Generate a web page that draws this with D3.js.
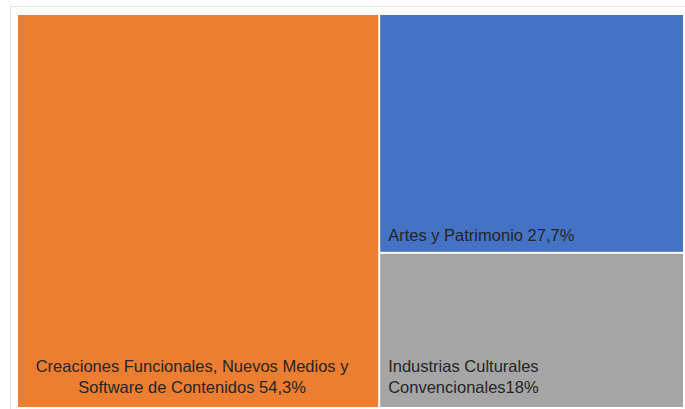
<!DOCTYPE html>
<html>
<head>
<meta charset="utf-8">
<script src="https://cdn.jsdelivr.net/npm/d3@7"></script>
<style>
  body { margin: 0; background: #fff; }
  svg { display: block; }
</style>
</head>
<body>
<svg width="685" height="409"></svg>
<script>
// data
var categories = ["Creaciones Funcionales, Nuevos Medios y Software de Contenidos", "Artes y Patrimonio", "Industrias Culturales Convencionales"];
var shares = [54.3, 27.7, 18];
var labelLines = [
  ["Creaciones Funcionales, Nuevos Medios y", "Software de Contenidos 54,3%"],
  ["Artes y Patrimonio 27,7%"],
  ["Industrias Culturales", "Convencionales18%"]
];
var colors = ["#ED7D31", "#4472C4", "#A5A5A5"];

var svg = d3.select("svg");
var mLeft = 18, mTop = 15, w = 665, h = 392;

// faint outer frame
svg.append("rect")
  .attr("x", 10.5).attr("y", 6.5)
  .attr("width", 700).attr("height", 420)
  .attr("fill", "none")
  .attr("stroke", "#e3e3e3");

var root = d3.hierarchy({ children: categories.map(function(c, i) {
    return { name: c, value: shares[i], idx: i };
  }) })
  .sum(function(d) { return d.value || 0; });

d3.treemap()
  .tile(d3.treemapBinary)
  .paddingInner(2)
  .size([w, h])(root);

var cell = svg.append("g")
  .attr("transform", "translate(" + mLeft + "," + mTop + ")")
  .selectAll("g")
  .data(root.leaves())
  .enter().append("g");

cell.append("rect")
  .attr("x", function(d) { return d.x0; })
  .attr("y", function(d) { return d.y0; })
  .attr("width", function(d) { return d.x1 - d.x0; })
  .attr("height", function(d) { return d.y1 - d.y0; })
  .attr("fill", function(d) { return colors[d.data.idx]; });

// labels sit at the bottom of each cell
var lineH = 21;
cell.each(function(d) {
  var lines = labelLines[d.data.idx];
  var centered = d.data.idx === 0;
  var t = d3.select(this).append("text")
    .attr("font-family", "'Liberation Sans', Arial, sans-serif")
    .attr("font-size", 16.5)
    .attr("fill", "#262626")
    .attr("text-anchor", centered ? "middle" : "start");
  var x = centered ? (d.x0 + d.x1) / 2 - 6 : d.x0 + 8;
  var yLast = d.data.idx === 1 ? d.y1 - 11 : d.y1 - 14;
  lines.forEach(function(l, i) {
    t.append("tspan")
      .attr("x", x)
      .attr("y", yLast - (lines.length - 1 - i) * lineH)
      .text(l);
  });
});
</script>
</body>
</html>
